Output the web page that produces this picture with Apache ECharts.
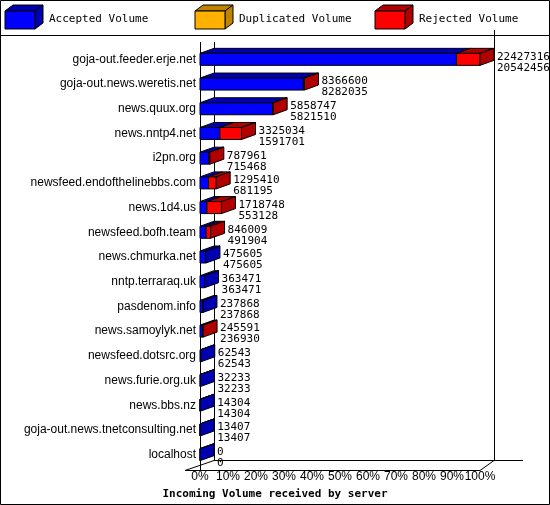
<!DOCTYPE html>
<html><head><meta charset="utf-8">
<script src="https://cdn.jsdelivr.net/npm/echarts@6/dist/echarts.min.js"></script>
<style>body{margin:0}#c{width:550px;height:505px}</style></head>
<body><div id="c"></div>
<script>
const hosts = ['goja-out.feeder.erje.net', 'goja-out.news.weretis.net', 'news.quux.org', 'news.nntp4.net',
  'i2pn.org', 'newsfeed.endofthelinebbs.com', 'news.1d4.us', 'newsfeed.bofh.team', 'news.chmurka.net',
  'nntp.terraraq.uk', 'pasdenom.info', 'news.samoylyk.net', 'newsfeed.dotsrc.org', 'news.furie.org.uk',
  'news.bbs.nz', 'goja-out.news.tnetconsulting.net', 'localhost'];
const totalVolume = [22427316, 8366600, 5858747, 3325034, 787961, 1295410, 1718748, 846009, 475605,
  363471, 237868, 245591, 62543, 32233, 14304, 13407, 0];
const acceptedVolume = [20542456, 8282035, 5821510, 1591701, 715468, 681195, 553128, 491904, 475605,
  363471, 237868, 236930, 62543, 32233, 14304, 13407, 0];
const tickLabels = ['0%', '10%', '20%', '30%', '40%', '50%', '60%', '70%', '80%', '90%', '100%'];

const maxVol = Math.max(...totalVolume);
const pct = v => v / maxVol * 100;
const DX = 14, DY = -5, H = 12;
const font = '11px "DejaVu Sans Mono", monospace';

function bar(params, api, last) {
  const i = api.value(0);
  const a = api.coord([api.value(1), i]);
  const b = api.coord([api.value(2), i]);
  const front = api.value(3), topC = api.value(4), sideC = api.value(5);
  const y0 = a[1] - H / 2, y1 = a[1] + H / 2;
  const ch = [];
  const st = { stroke: '#000', lineWidth: 1 };
  if (b[0] > a[0] || last) {
    ch.push({ type: 'polygon', shape: { points: [[a[0], y0], [a[0] + DX, y0 + DY], [b[0] + DX, y0 + DY], [b[0], y0]] },
      style: Object.assign({ fill: topC }, st) });
    ch.push({ type: 'rect', shape: { x: a[0], y: y0, width: b[0] - a[0], height: H },
      style: Object.assign({ fill: front }, st) });
  }
  if (last) {
    ch.push({ type: 'polygon', shape: { points: [[b[0], y0], [b[0] + DX, y0 + DY], [b[0] + DX, y1 + DY], [b[0], y1]] },
      style: Object.assign({ fill: sideC }, st) });
    ch.push({ type: 'text', style: { x: b[0] + DX + 3, y: a[1] - 8, text: api.value(6) + '\n' + api.value(7),
      font: font, fill: '#000', lineHeight: 11, verticalAlign: 'top' } });
  }
  return { type: 'group', children: ch };
}

const accData = hosts.map((h, i) => [i, 0, pct(acceptedVolume[i]), '#0000ff', '#0000b0', '#0000b0']);
const rejData = hosts.map((h, i) => {
  const rej = totalVolume[i] > acceptedVolume[i];
  return [i, pct(acceptedVolume[i]), pct(totalVolume[i]), '#ff0000', '#b00000', rej || i === 11 ? '#b00000' : '#0000b0',
    totalVolume[i], acceptedVolume[i]];
});

function legendBox(x, color, top, label) {
  return [
    { type: 'polygon', shape: { points: [[x, 11], [x + 8, 5], [x + 38, 5], [x + 30, 11]] }, style: { fill: top, stroke: '#000' } },
    { type: 'polygon', shape: { points: [[x + 30, 11], [x + 38, 5], [x + 38, 23], [x + 30, 29]] }, style: { fill: top, stroke: '#000' } },
    { type: 'rect', shape: { x: x, y: 11, width: 30, height: 18 }, style: { fill: color, stroke: '#000' } },
    { type: 'text', style: { x: x + 44, y: 14, text: label, font: font, fill: '#000' } }
  ];
}

const line = (x1, y1, x2, y2) => ({ type: 'line', shape: { x1, y1, x2, y2 }, style: { stroke: '#000', lineWidth: 1 } });

const chart = echarts.init(document.getElementById('c'));
chart.setOption({
  animation: false,
  backgroundColor: '#fff',
  grid: { left: 200, top: 47, width: 280, height: 423 },
  xAxis: { type: 'value', min: 0, max: 100, interval: 10,
    axisLine: { show: false }, axisTick: { show: false }, splitLine: { show: false },
    axisLabel: { formatter: v => tickLabels[v / 10], font: font, color: '#000', margin: 4 },
    name: 'Incoming Volume received by server', nameLocation: 'middle', nameGap: 22,
    nameTextStyle: { fontFamily: 'DejaVu Sans Mono', fontWeight: 'bold', fontSize: 11, color: '#000', padding: [0, 0, 0, -130] } },
  yAxis: { type: 'category', data: hosts, inverse: true,
    axisLine: { show: false }, axisTick: { show: false },
    axisLabel: { font: font, color: '#000', margin: 4 } },
  graphic: [
    { type: 'rect', shape: { x: 0.5, y: 0.5, width: 549, height: 504 }, style: { fill: 'none', stroke: '#000' } },
    line(0, 35.5, 550, 35.5),
    line(200.5, 42, 200.5, 470), line(214.5, 42, 214.5, 460), line(494.5, 30, 494.5, 460),
    line(185, 470.5, 480, 470.5), line(214, 460.5, 523, 460.5), line(480, 470.5, 494, 460.5), line(185, 470.5, 214, 460.5)
  ].concat(legendBox(5, '#0000ff', '#0000b0', 'Accepted Volume'),
    legendBox(195, '#ffb000', '#c08400', 'Duplicated Volume'),
    legendBox(375, '#ff0000', '#b00000', 'Rejected Volume')),
  series: [
    { type: 'custom', renderItem: (p, api) => bar(p, api, false), data: accData, z: 2 },
    { type: 'custom', renderItem: (p, api) => bar(p, api, true), data: rejData, z: 3 }
  ]
});
</script></body></html>
